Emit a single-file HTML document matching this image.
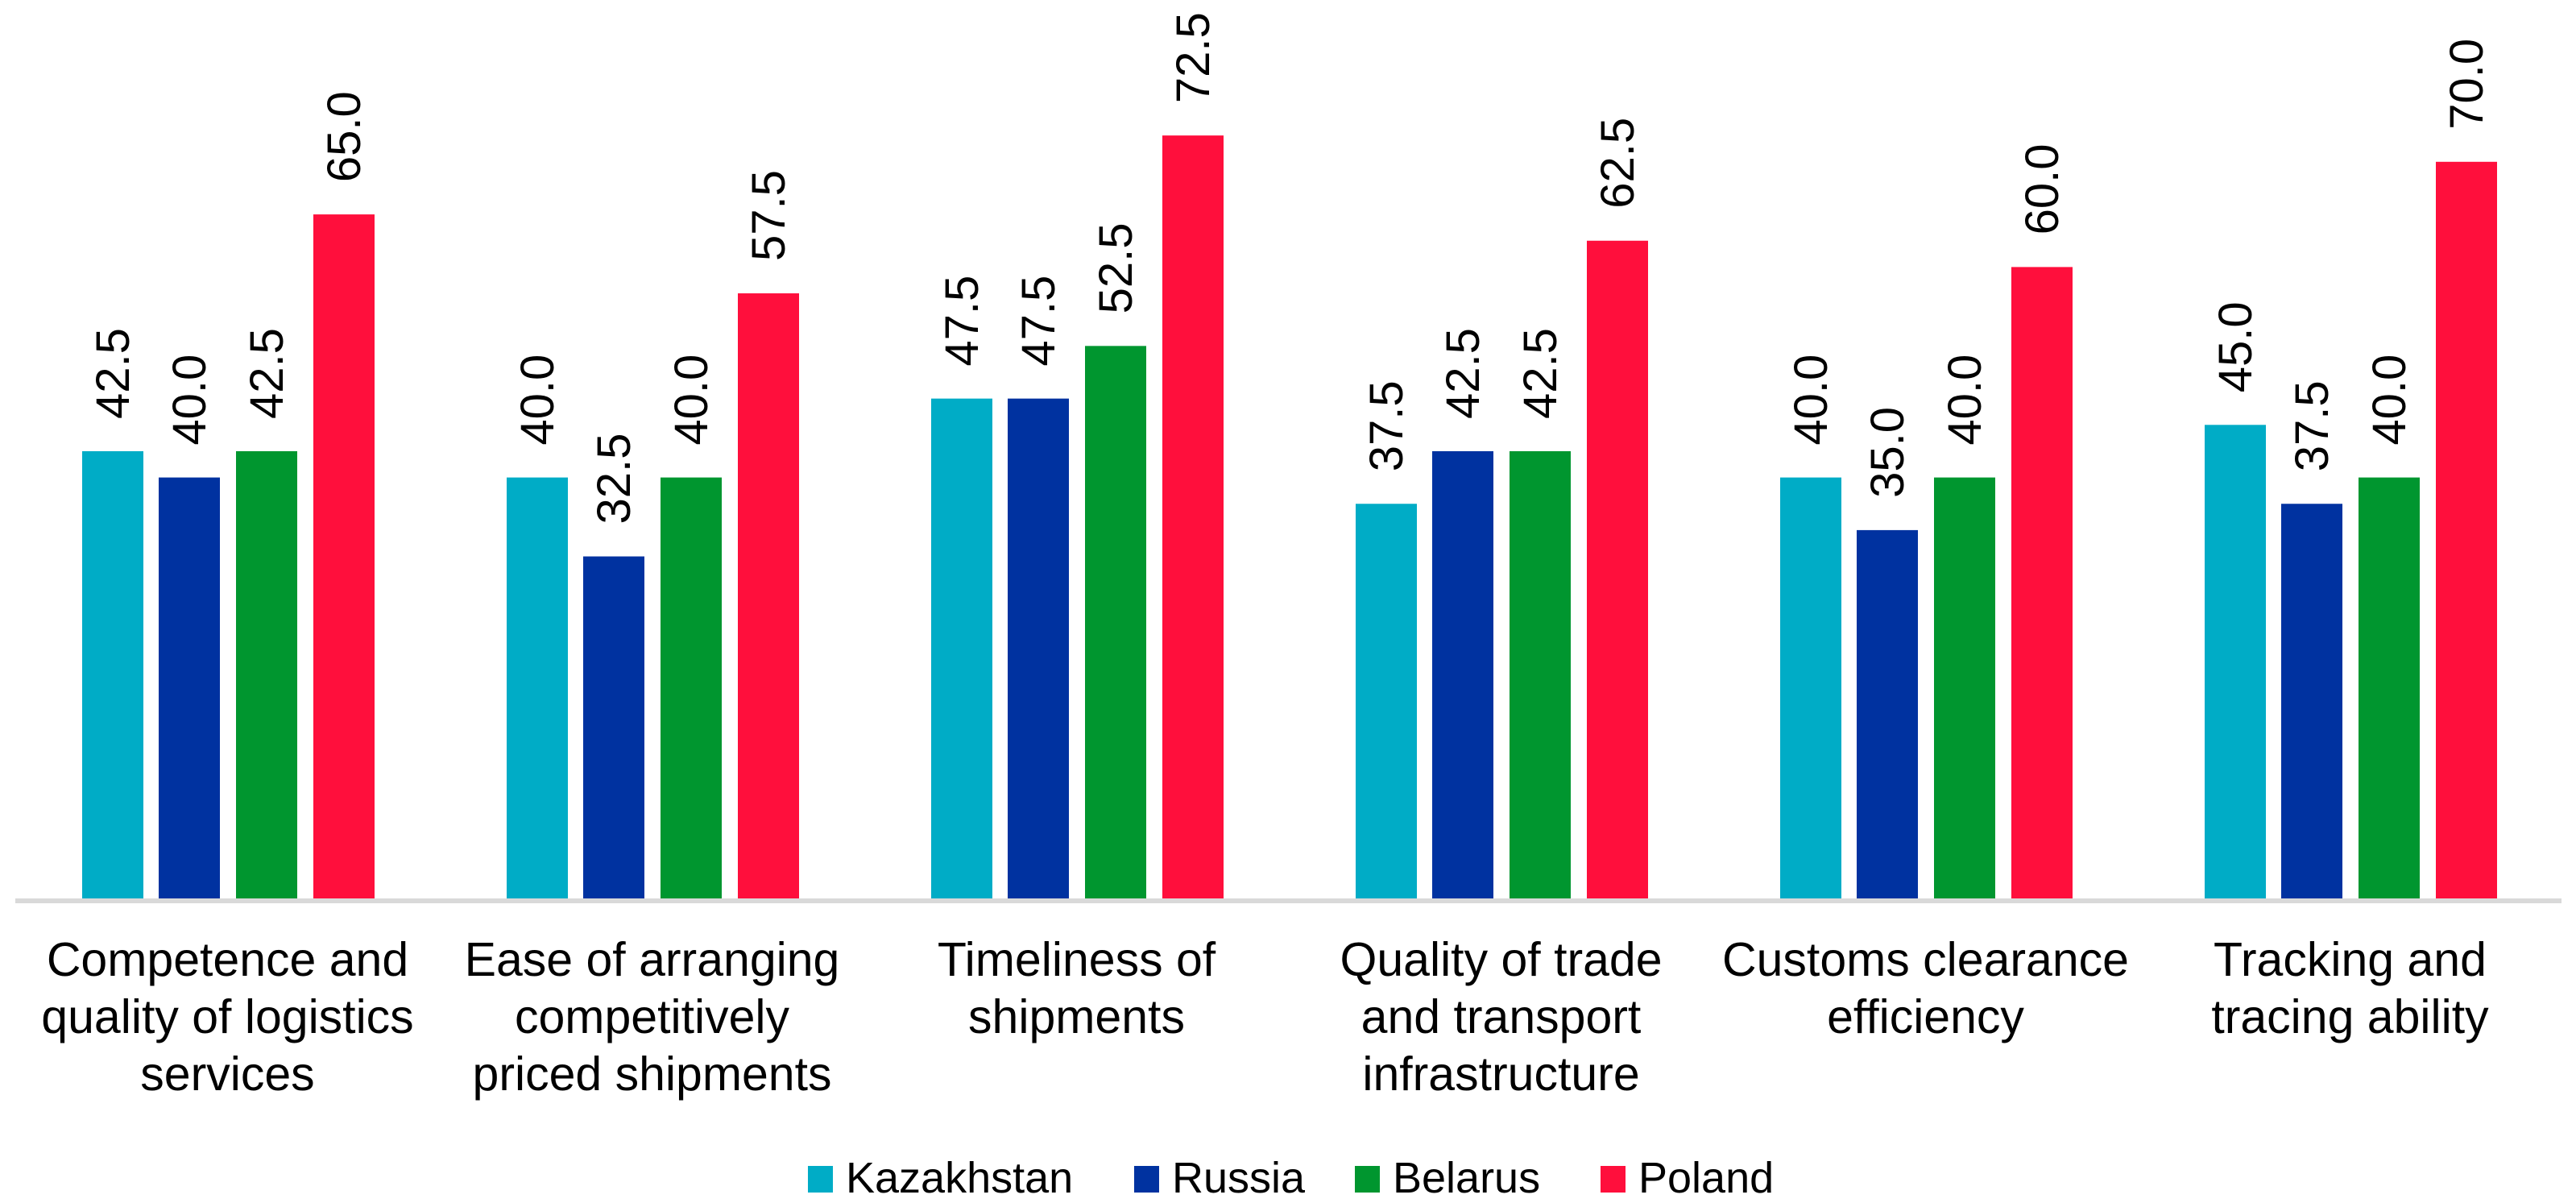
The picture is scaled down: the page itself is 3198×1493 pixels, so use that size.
<!DOCTYPE html>
<html><head><meta charset="utf-8"><style>
html,body{margin:0;padding:0;background:#fff;}
svg{display:block;font-family:"Liberation Sans",sans-serif;}
</style></head><body>
<svg id="chart" width="3198" height="1493" viewBox="0 0 3198 1493" xmlns="http://www.w3.org/2000/svg"></svg>
<script>
const categories = [
  ["Competence and","quality of logistics","services"],
  ["Ease of arranging","competitively","priced shipments"],
  ["Timeliness of","shipments"],
  ["Quality of trade","and transport","infrastructure"],
  ["Customs clearance","efficiency"],
  ["Tracking and","tracing ability"]
];
const seriesNames = ["Kazakhstan","Russia","Belarus","Poland"];
const seriesColors = ["#00ACC6","#0032A0","#00962F","#FF0F3C"];
const kazakhstan = [42.5,40.0,47.5,37.5,40.0,45.0];
const russia = [40.0,32.5,47.5,42.5,35.0,37.5];
const belarus = [42.5,40.0,52.5,42.5,40.0,40.0];
const poland = [65.0,57.5,72.5,62.5,60.0,70.0];
const seriesValues = [kazakhstan,russia,belarus,poland];

const NS = "http://www.w3.org/2000/svg";
const svg = document.getElementById("chart");
const baseY = 1115, pxPerUnit = 13.06;
const plotLeft = 19, groupW = 527;
const barOffsets = [83,178,274,370], barW = 76;
function yScale(v){ return baseY - v*pxPerUnit; }
function xBar(ci, si){ return plotLeft + groupW*ci + barOffsets[si]; }
function mk(tag, attrs){ const e=document.createElementNS(NS,tag); for(const k in attrs) e.setAttribute(k,attrs[k]); svg.appendChild(e); return e; }

categories.forEach((cat, ci) => {
  seriesValues.forEach((vals, si) => {
    const v = vals[ci];
    const x = xBar(ci, si), y = yScale(v);
    const r = mk("rect",{x:x,y:y,width:barW,height:baseY-y,fill:seriesColors[si]});
    
    
    const cx = x + barW/2 + 20, ty = y - 40;
    const t = mk("text",{x:cx,y:ty,transform:`rotate(-90 ${cx} ${ty})`,"font-size":58,fill:"#000"});
    t.textContent = v.toFixed(1);
    
    
  });
  const gx = plotLeft + groupW*ci + groupW/2;
  const lbl = mk("text",{x:gx,y:1211,"font-size":59,"text-anchor":"middle",fill:"#000"});
  
  
  cat.forEach((line, li) => {
    const ts = document.createElementNS(NS,"tspan");
    ts.setAttribute("x", gx);
    ts.setAttribute("y", 1211 + li*71);
    ts.textContent = line;
    lbl.appendChild(ts);
  });
});

const axis = mk("rect",{x:19,y:1115,width:3161,height:6,fill:"#D9D9D9"});



const legendX = [1003,1408,1682,1987];
seriesNames.forEach((n, si) => {
  const m = mk("rect",{x:legendX[si],y:1447,width:31,height:33,fill:seriesColors[si]});
  
  
  const t = mk("text",{x:legendX[si]+47,y:1480,"font-size":54,fill:"#000"});
  t.textContent = n;
  
  
});
</script>
</body></html>
